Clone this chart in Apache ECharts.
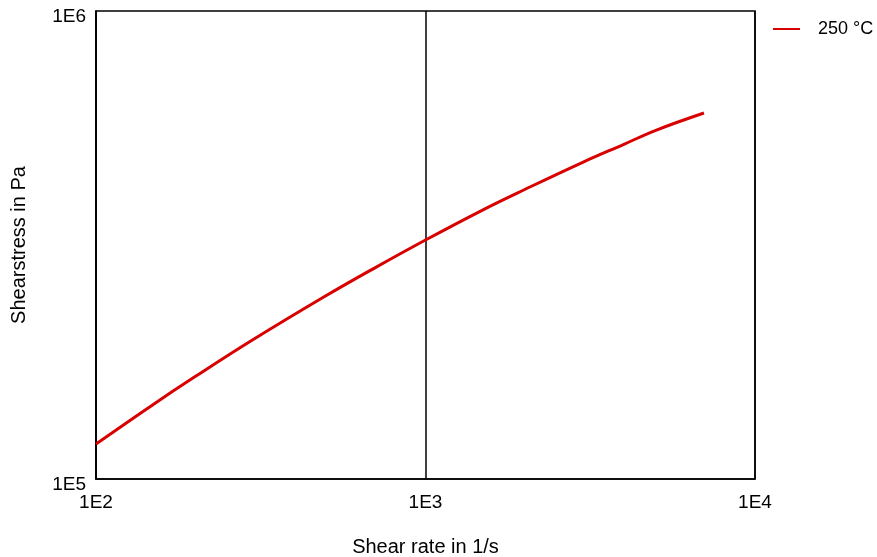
<!DOCTYPE html>
<html>
<head>
<meta charset="utf-8">
<script src="https://cdn.jsdelivr.net/npm/echarts@6/dist/echarts.min.js"></script>
<style>
html,body{margin:0;padding:0;background:#fff;}
#chart{width:877px;height:557px;}
</style>
</head>
<body>
<div id="chart"></div>
<script>
const seriesName = '250 °C';
const shearRate = [100, 150, 200, 300, 500, 700, 1000, 1500, 2000, 3000, 4000, 5000, 7000];
const shearStress = [118800, 144700, 165500, 198600, 246600, 282300, 324100, 376500, 415500, 475000, 519000, 556000, 605400];
const xTicks = ['1E2', '1E3', '1E4'];
const yTicks = ['1E5', '1E6'];

const fontFamily = '"Liberation Sans", Arial, sans-serif';
const chart = echarts.init(document.getElementById('chart'), null, {renderer: 'canvas'});
const data = shearRate.map((x, i) => [x, shearStress[i]]);

chart.setOption({
  animation: false,
  backgroundColor: '#ffffff',
  grid: {left: 96, right: 122, top: 11, bottom: 78, containLabel: false, outerBoundsMode: 'none',
         show: true, borderColor: '#000', borderWidth: 1.5, backgroundColor: 'transparent'},
  legend: {
    show: true,
    left: 768, top: 15,
    icon: 'rect', itemWidth: 27, itemHeight: 2,
    itemStyle: {color: '#d90000'},
    textStyle: {fontFamily, fontSize: 18, color: '#000', padding: [0, 0, 0, 13]},
    data: [seriesName]
  },
  xAxis: {
    type: 'log', logBase: 10, min: 100, max: 10000,
    name: 'Shear rate in 1/s', nameLocation: 'middle', nameGap: 58,
    nameTextStyle: {fontFamily, fontSize: 20, color: '#000'},
    axisLine: {show: true, lineStyle: {color: '#000', width: 1.5}},
    axisTick: {show: false},
    splitLine: {show: true, lineStyle: {color: '#000', width: 1.5}},
    minorTick: {show: false},
    axisLabel: {
      fontFamily, fontSize: 19, color: '#000', margin: 14,
      formatter: v => xTicks[Math.round(Math.log10(v)) - 2] || ''
    }
  },
  yAxis: {
    type: 'log', logBase: 10, min: 100000, max: 1000000,
    name: 'Shearstress in Pa', nameLocation: 'middle', nameGap: 67,
    nameTextStyle: {fontFamily, fontSize: 20, color: '#000'},
    axisLine: {show: true, lineStyle: {color: '#000', width: 1.5}},
    axisTick: {show: false},
    splitLine: {show: false},
    axisLabel: {
      fontFamily, fontSize: 19, color: '#000', margin: 10,
      verticalAlign: 'top', lineHeight: 12,
      formatter: v => yTicks[Math.round(Math.log10(v)) - 5] || ''
    }
  },
  series: [{
    name: seriesName,
    type: 'line',
    data: data,
    smooth: 0.4,
    symbol: 'none',
    showSymbol: false,
    lineStyle: {color: '#d90000', width: 3},
    itemStyle: {color: '#d90000'}
  }]
});
</script>
</body>
</html>
